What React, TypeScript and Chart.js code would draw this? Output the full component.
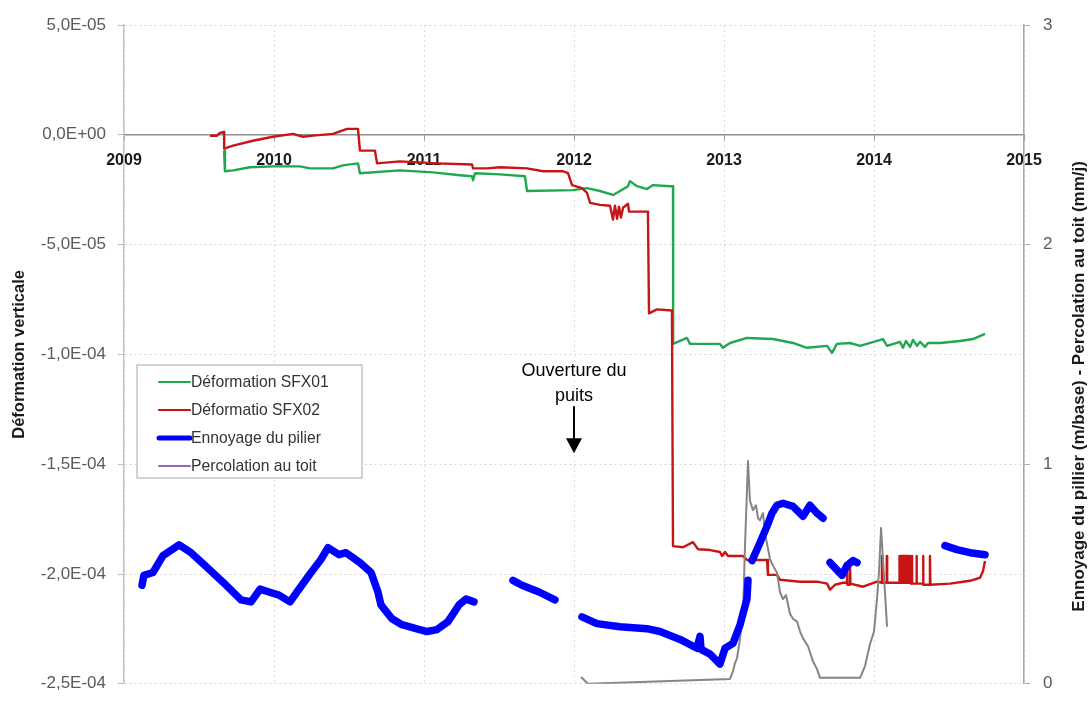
import { useEffect, useRef } from 'react';
import { Chart, registerables } from 'chart.js';

Chart.register(...registerables);

const SANS = "'Liberation Sans', Arial, sans-serif";

// Axes
const yearTicks = [2009, 2010, 2011, 2012, 2013, 2014, 2015];
const yearLabels = ['2009', '2010', '2011', '2012', '2013', '2014', '2015'];
const leftTickValues = [-2.5e-4, -2.0e-4, -1.5e-4, -1.0e-4, -5.0e-5, 0, 5.0e-5];
const leftTickLabels = ['-2,5E-04', '-2,0E-04', '-1,5E-04', '-1,0E-04', '-5,0E-05', '0,0E+00', '5,0E-05'];
const rightTickValues = [0, 1, 2, 3];
const rightTickLabels = ['0', '1', '2', '3'];

const leftTitle = 'Déformation verticale';
const rightTitle = 'Ennoyage du pillier (m/base) - Percolation au toit (mm/j)';
const legendLabels = ['Déformation SFX01', 'Déformatio SFX02', 'Ennoyage du pilier', 'Percolation au toit'];
const annotationLines = ['Ouverture du', 'puits'];
const annotationYear = 2012;
const annotationTipValue = -1.45e-4;

// Déformation SFX01 (left axis)
const sfx01Years = [2009.667, 2009.673, 2009.727, 2009.84, 2009.993, 2010.173, 2010.24, 2010.393, 2010.46, 2010.56,
  2010.573, 2010.84, 2011.06, 2011.24, 2011.32, 2011.327, 2011.34, 2011.507, 2011.673, 2011.687,
  2011.993, 2012.087, 2012.173, 2012.26, 2012.307, 2012.36, 2012.373, 2012.42, 2012.487, 2012.527,
  2012.64, 2012.66, 2012.661, 2012.753, 2012.773, 2012.973, 2012.993, 2013.04, 2013.153, 2013.327,
  2013.46, 2013.553, 2013.687, 2013.72, 2013.753, 2013.84, 2013.907, 2014.06, 2014.087, 2014.173,
  2014.193, 2014.213, 2014.24, 2014.26, 2014.287, 2014.307, 2014.34, 2014.36, 2014.44, 2014.573,
  2014.66, 2014.74];
const sfx01Values = [-0.72e-5, -1.66e-5, -1.62e-5, -1.48e-5, -1.44e-5, -1.44e-5, -1.53e-5, -1.53e-5, -1.39e-5, -1.30e-5,
  -1.75e-5, -1.62e-5, -1.71e-5, -1.84e-5, -1.89e-5, -2.07e-5, -1.75e-5, -1.80e-5, -1.89e-5, -2.56e-5,
  -2.52e-5, -2.43e-5, -2.56e-5, -2.74e-5, -2.56e-5, -2.34e-5, -2.11e-5, -2.34e-5, -2.47e-5, -2.29e-5,
  -2.34e-5, -2.34e-5, -9.52e-5, -9.25e-5, -9.52e-5, -9.52e-5, -9.70e-5, -9.48e-5, -9.25e-5, -9.30e-5,
  -9.48e-5, -9.70e-5, -9.61e-5, -9.93e-5, -9.52e-5, -9.48e-5, -9.61e-5, -9.30e-5, -9.61e-5, -9.43e-5,
  -9.70e-5, -9.39e-5, -9.66e-5, -9.34e-5, -9.61e-5, -9.43e-5, -9.66e-5, -9.48e-5, -9.48e-5, -9.39e-5,
  -9.30e-5, -9.07e-5];

// Déformatio SFX02 (left axis)
const sfx02Years = [2009.573, 2009.62, 2009.64, 2009.667, 2009.668, 2009.727, 2009.86, 2009.993, 2010.127, 2010.193,
  2010.26, 2010.393, 2010.487, 2010.56, 2010.573, 2010.673, 2010.687, 2010.84, 2011.087, 2011.32,
  2011.327, 2011.42, 2011.507, 2011.687, 2011.793, 2011.927, 2011.96, 2011.987, 2012.053, 2012.087,
  2012.107, 2012.173, 2012.24, 2012.26, 2012.273, 2012.287, 2012.3, 2012.313, 2012.327, 2012.36,
  2012.367, 2012.493, 2012.5, 2012.553, 2012.653, 2012.66, 2012.727, 2012.793, 2012.827, 2012.907,
  2012.973, 2012.987, 2013.007, 2013.027, 2013.127, 2013.153, 2013.287, 2013.293, 2013.353, 2013.373,
  2013.507, 2013.62, 2013.687, 2013.707, 2013.74, 2013.793, 2013.82, 2013.82, 2013.823, 2013.84,
  2013.84, 2013.843, 2013.927, 2014.02, 2014.053, 2014.053, 2014.056, 2014.056, 2014.085, 2014.085,
  2014.088, 2014.088, 2014.17, 2014.17, 2014.175, 2014.175, 2014.18, 2014.18, 2014.186, 2014.186,
  2014.19, 2014.19, 2014.197, 2014.197, 2014.205, 2014.205, 2014.212, 2014.212, 2014.218, 2014.218,
  2014.224, 2014.224, 2014.23, 2014.23, 2014.236, 2014.236, 2014.25, 2014.25, 2014.254, 2014.254,
  2014.283, 2014.283, 2014.286, 2014.327, 2014.327, 2014.33, 2014.373, 2014.373, 2014.376, 2014.507,
  2014.64, 2014.707, 2014.727, 2014.74];
const sfx02Values = [-0.04e-5, -0.04e-5, 0.09e-5, 0.13e-5, -0.63e-5, -0.49e-5, -0.27e-5, -0.09e-5, 0.04e-5, -0.09e-5,
  -0.04e-5, 0.04e-5, 0.27e-5, 0.27e-5, -0.72e-5, -0.72e-5, -1.30e-5, -1.21e-5, -1.30e-5, -1.35e-5,
  -1.53e-5, -1.53e-5, -1.48e-5, -1.53e-5, -1.66e-5, -1.66e-5, -1.75e-5, -2.29e-5, -2.43e-5, -2.65e-5,
  -3.10e-5, -3.19e-5, -3.23e-5, -3.86e-5, -3.23e-5, -3.82e-5, -3.28e-5, -3.77e-5, -3.32e-5, -3.14e-5,
  -3.50e-5, -3.50e-5, -8.13e-5, -7.95e-5, -8.00e-5, -18.73e-5, -18.78e-5, -18.55e-5, -18.87e-5, -18.91e-5,
  -19.00e-5, -19.18e-5, -19.00e-5, -19.18e-5, -19.18e-5, -19.36e-5, -19.36e-5, -20.04e-5, -20.04e-5, -20.26e-5,
  -20.35e-5, -20.35e-5, -20.44e-5, -20.71e-5, -20.49e-5, -20.40e-5, -20.40e-5, -19.50e-5, -20.49e-5, -20.49e-5,
  -19.36e-5, -20.44e-5, -20.58e-5, -20.35e-5, -20.40e-5, -19.18e-5, -19.18e-5, -20.40e-5, -20.40e-5, -19.18e-5,
  -19.18e-5, -20.40e-5, -20.40e-5, -19.18e-5, -19.18e-5, -20.40e-5, -20.40e-5, -19.18e-5, -19.18e-5, -20.40e-5,
  -20.40e-5, -19.18e-5, -19.18e-5, -20.40e-5, -20.40e-5, -19.18e-5, -19.18e-5, -20.40e-5, -20.40e-5, -19.18e-5,
  -19.18e-5, -20.40e-5, -20.40e-5, -19.18e-5, -19.18e-5, -20.40e-5, -20.44e-5, -19.18e-5, -19.18e-5, -20.44e-5,
  -20.44e-5, -19.18e-5, -20.44e-5, -20.44e-5, -19.18e-5, -20.49e-5, -20.49e-5, -19.18e-5, -20.49e-5, -20.44e-5,
  -20.31e-5, -20.17e-5, -19.86e-5, -19.41e-5];

// Ennoyage du pilier (right axis), null = gap
const pilierYears = [2009.12, 2009.133, 2009.193, 2009.26, 2009.367, 2009.447, 2009.54, 2009.66, 2009.78, 2009.847,
  2009.907, 2009.967, 2010.033, 2010.107, 2010.153, 2010.247, 2010.313, 2010.36, 2010.433, 2010.48,
  2010.573, 2010.647, 2010.693, 2010.713, 2010.787, 2010.853, 2010.947, 2011.02, 2011.087, 2011.16,
  2011.233, 2011.28, 2011.333,
  2011.46,
  2011.593, 2011.653, 2011.767, 2011.873,
  2011.96,
  2012.053, 2012.153, 2012.307, 2012.487, 2012.573, 2012.707, 2012.82, 2012.84, 2012.847, 2012.907,
  2012.973, 2013.007, 2013.06, 2013.107, 2013.153, 2013.16,
  2013.173,
  2013.187, 2013.24, 2013.287, 2013.32, 2013.353, 2013.393, 2013.46, 2013.527, 2013.573, 2013.62, 2013.66,
  2013.68,
  2013.707, 2013.787, 2013.82, 2013.86, 2013.887,
  2014.2,
  2014.473, 2014.553, 2014.64, 2014.74];
const pilierValues = [0.449, 0.494, 0.507, 0.584, 0.633, 0.597, 0.539, 0.463, 0.382, 0.373,
  0.431, 0.418, 0.404, 0.373, 0.418, 0.507, 0.566, 0.620, 0.588, 0.597,
  0.552, 0.507, 0.418, 0.359, 0.296, 0.269, 0.251, 0.238, 0.247, 0.283,
  0.359, 0.386, 0.373,
  null,
  0.471, 0.449, 0.418, 0.382,
  null,
  0.305, 0.274, 0.260, 0.251, 0.238, 0.202, 0.162, 0.216, 0.157, 0.135,
  0.090, 0.162, 0.184, 0.269, 0.386, 0.471,
  null,
  0.561, 0.642, 0.718, 0.777, 0.813, 0.822, 0.808, 0.763, 0.813, 0.777, 0.754,
  null,
  0.552, 0.494, 0.539, 0.561, 0.552,
  null,
  0.629, 0.611, 0.597, 0.588];

// Percolation au toit (right axis)
const percYears = [2012.047, 2012.093, 2013.04, 2013.06, 2013.073, 2013.087, 2013.107, 2013.127, 2013.14, 2013.16,
  2013.173, 2013.193, 2013.213, 2013.227, 2013.24, 2013.26, 2013.273, 2013.307, 2013.333, 2013.353,
  2013.373, 2013.393, 2013.413, 2013.44, 2013.46, 2013.487, 2013.507, 2013.527, 2013.56, 2013.593,
  2013.62, 2013.64, 2013.907, 2013.94, 2013.973, 2014.0, 2014.02, 2014.033, 2014.047, 2014.06,
  2014.073, 2014.087];
const percValues = [0.031, 0.0, 0.022, 0.058, 0.094, 0.117, 0.207, 0.328, 0.629, 1.015,
  0.835, 0.790, 0.813, 0.754, 0.745, 0.777, 0.687, 0.566, 0.530, 0.507,
  0.418, 0.386, 0.404, 0.319, 0.296, 0.283, 0.238, 0.207, 0.171, 0.103,
  0.067, 0.027, 0.027, 0.081, 0.180, 0.238, 0.386, 0.507, 0.709, 0.566,
  0.418, 0.260];

const GREEN = '#1fa84f';
const RED = '#c81414';
const BLUE = '#0000ff';
const GRAY = '#858585';
const PURPLE = '#8a6cb4';

const toPoints = (xs: number[], ys: (number | null)[]) => xs.map((x, i) => ({ x, y: ys[i] }));

const overlayPlugin = {
  id: 'overlay',
  afterDraw(chart: any) {
    const { ctx, chartArea, scales } = chart;
    const xs = scales.x;
    const ys = scales.y;

    // Right axis title (reads bottom to top)
    ctx.save();
    ctx.translate(chart.width - 12, (chartArea.top + chartArea.bottom) / 2 + 32);
    ctx.rotate(-Math.PI / 2);
    ctx.font = `bold 17px ${SANS}`;
    ctx.fillStyle = '#1a1a1a';
    ctx.textAlign = 'center';
    ctx.textBaseline = 'middle';
    ctx.fillText(rightTitle, 0, 0);
    ctx.restore();

    // Legend box
    const lx = chartArea.left + 13;
    const ly = chartArea.top + 340;
    const lw = 225;
    const lh = 113;
    ctx.save();
    ctx.fillStyle = '#ffffff';
    ctx.fillRect(lx, ly, lw, lh);
    ctx.strokeStyle = '#b5b5b5';
    ctx.lineWidth = 1.2;
    ctx.strokeRect(lx, ly, lw, lh);
    const ds = chart.data.datasets;
    ctx.font = `15.7px ${SANS}`;
    ctx.textAlign = 'left';
    ctx.textBaseline = 'middle';
    legendLabels.forEach((label, i) => {
      const d = ds[i];
      const cy = ly + 17 + i * 28;
      ctx.beginPath();
      ctx.strokeStyle = d.legendColor || d.borderColor;
      ctx.lineWidth = d.legendWidth || 2;
      ctx.lineCap = 'round';
      ctx.moveTo(lx + 22, cy);
      ctx.lineTo(lx + 53, cy);
      ctx.stroke();
      ctx.fillStyle = '#333333';
      ctx.fillText(label, lx + 54, cy + 1);
    });
    ctx.restore();

    // Annotation "Ouverture du puits" with arrow
    const ax = xs.getPixelForValue(annotationYear);
    const tipY = ys.getPixelForValue(annotationTipValue);
    ctx.save();
    ctx.fillStyle = '#000000';
    ctx.strokeStyle = '#000000';
    ctx.font = `18px ${SANS}`;
    ctx.textAlign = 'center';
    ctx.textBaseline = 'middle';
    ctx.fillText(annotationLines[0], ax, tipY - 82);
    ctx.fillText(annotationLines[1], ax, tipY - 57);
    ctx.lineWidth = 2;
    ctx.beginPath();
    ctx.moveTo(ax, tipY - 47);
    ctx.lineTo(ax, tipY - 13);
    ctx.stroke();
    ctx.beginPath();
    ctx.moveTo(ax - 8, tipY - 15);
    ctx.lineTo(ax + 8, tipY - 15);
    ctx.lineTo(ax, tipY);
    ctx.closePath();
    ctx.fill();
    ctx.restore();
  },
};

export default function App() {
  const canvasRef = useRef<HTMLCanvasElement | null>(null);

  useEffect(() => {
    if (!canvasRef.current) return;
    const chart = new Chart(canvasRef.current, {
      type: 'line',
      data: {
        datasets: [
          {
            label: legendLabels[0],
            data: toPoints(sfx01Years, sfx01Values),
            borderColor: GREEN,
            borderWidth: 2.4,
            yAxisID: 'y',
            order: 3,
            legendWidth: 2.2,
          } as any,
          {
            label: legendLabels[1],
            data: toPoints(sfx02Years, sfx02Values),
            borderColor: RED,
            borderWidth: 2.4,
            yAxisID: 'y',
            order: 2,
            legendWidth: 2.2,
          } as any,
          {
            label: legendLabels[2],
            data: toPoints(pilierYears, pilierValues),
            borderColor: BLUE,
            borderWidth: 7.5,
            yAxisID: 'y1',
            order: 0,
            legendWidth: 5,
            borderCapStyle: 'round',
          } as any,
          {
            label: legendLabels[3],
            data: toPoints(percYears, percValues),
            borderColor: GRAY,
            borderWidth: 2,
            yAxisID: 'y1',
            order: 1,
            legendColor: PURPLE,
            legendWidth: 2,
          } as any,
        ],
      },
      options: {
        animation: false,
        responsive: true,
        maintainAspectRatio: false,
        events: [],
        spanGaps: false,
        elements: {
          point: { radius: 0 },
          line: { tension: 0, borderJoinStyle: 'round' },
        },
        layout: { padding: { top: 25, bottom: 14, left: 0, right: 0 } },
        plugins: {
          legend: { display: false },
          tooltip: { enabled: false },
          title: { display: false },
        },
        scales: {
          x: {
            type: 'linear',
            min: 2009,
            max: 2015,
            position: { y: 0 } as any,
            afterBuildTicks: (s: any) => {
              s.ticks = yearTicks.map((v) => ({ value: v }));
            },
            ticks: {
              callback: (_v: any, i: number) => yearLabels[i],
              font: { family: SANS, size: 16, weight: 'bold' },
              color: '#1a1a1a',
              padding: 11,
              maxRotation: 0,
              autoSkip: false,
            },
            grid: { color: '#dcdcdc', lineWidth: 1, tickLength: 5, tickColor: '#9a9a9a', tickWidth: 1 },
            border: { color: '#8f8f8f', width: 1.5, dash: [2, 3] },
          },
          y: {
            type: 'linear',
            position: 'left',
            min: -2.5e-4,
            max: 5e-5,
            afterBuildTicks: (s: any) => {
              s.ticks = leftTickValues.map((v) => ({ value: v }));
            },
            afterFit: (s: any) => {
              s.width = 124;
            },
            ticks: {
              callback: (_v: any, i: number) => leftTickLabels[i],
              font: { family: SANS, size: 17 },
              color: '#5a5a5a',
              padding: 12,
            },
            grid: { color: '#d6d6d6', lineWidth: 1, tickLength: 6, tickColor: '#bdbdbd' },
            border: { color: '#c4c4c4', width: 1.5, dash: [2, 3] },
            title: {
              display: true,
              text: leftTitle,
              font: { family: SANS, size: 16.5, weight: 'bold' },
              color: '#1a1a1a',
              padding: { top: 10, bottom: 0 },
            },
          },
          y1: {
            type: 'linear',
            position: 'right',
            min: 0,
            max: 3,
            afterBuildTicks: (s: any) => {
              s.ticks = rightTickValues.map((v) => ({ value: v }));
            },
            afterFit: (s: any) => {
              s.width = 67;
            },
            ticks: {
              callback: (_v: any, i: number) => rightTickLabels[i],
              font: { family: SANS, size: 17 },
              color: '#5a5a5a',
              padding: 13,
            },
            grid: { drawOnChartArea: false, tickLength: 6, tickColor: '#a8a8a8' },
            border: { color: '#a8a8a8', width: 1.5 },
          },
        },
      } as any,
      plugins: [overlayPlugin],
    });
    return () => chart.destroy();
  }, []);

  return (
    <div style={{ position: 'absolute', left: 0, top: 0, width: 1091, height: 707, background: '#ffffff' }}>
      <canvas ref={canvasRef} />
    </div>
  );
}
